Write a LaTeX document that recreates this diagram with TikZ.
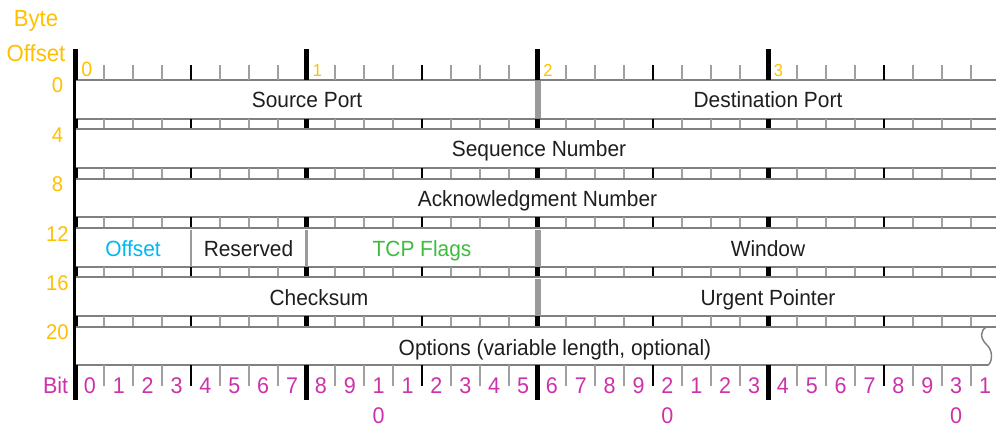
\documentclass[tikz,border=0pt]{standalone}
\usepackage{fontspec}
\setmainfont{Liberation Sans}[FakeStretch=0.95]
\definecolor{offy}{HTML}{FFC000}
\definecolor{bitm}{HTML}{CC33AA}
\definecolor{offc}{HTML}{00B8F0}
\definecolor{flagg}{RGB}{60,190,60}
\definecolor{txt}{HTML}{1E1E1E}
\definecolor{rulec}{HTML}{808080}
\definecolor{tickg}{HTML}{A0A0A0}
\definecolor{sepg}{HTML}{9A9A9A}
\begin{document}
\begin{tikzpicture}[x=0.75pt,y=-0.75pt,
  hline/.style={draw=rulec,line width=1.5pt},
  bytetick/.style={draw=black,line width=3.75pt},
  nibtick/.style={draw=black,line width=1.5pt},
  mintick/.style={draw=tickg,line width=1.5pt},
  fieldtxt/.style={inner sep=0pt,anchor=base,text=txt,font=\fontsize{16.5}{18}\selectfont},
  offlab/.style={inner sep=0pt,anchor=base,text=offy,font=\fontsize{16}{17}\selectfont},
  bitlab/.style={inner sep=0pt,anchor=base,text=bitm,font=\fontsize{17}{19}\selectfont},
  toplab/.style={inner sep=0pt,anchor=base west,text=offy,font=\fontsize{13}{14}\selectfont}]
\useasboundingbox (0,0) rectangle (996,428);
% row boxes and strips
\foreach \r in {0,...,4}{
  \pgfmathsetmacro\t{80+49.35*\r}
  \pgfmathsetmacro\b{\t+38.6}
  \pgfmathsetmacro\n{\t+49.35}
  \draw[hline] (75,\t) -- (1000,\t);
  \draw[hline] (75,\b) -- (1000,\b);
  \foreach \k in {0,...,32}{
    \pgfmathsetmacro\xx{75.5+28.875*\k}
    \pgfmathtruncatemacro\mb{mod(\k,8)}
    \pgfmathtruncatemacro\mn{mod(\k,4)}
    \ifnum\mb=0 \tikzset{tk/.style=bytetick}\else\ifnum\mn=0 \tikzset{tk/.style=nibtick}\else\tikzset{tk/.style=mintick}\fi\fi
    \draw[tk] (\xx,\b) -- (\xx,\n);
  }
}
% options row (last)
\coordinate (wt) at (987,326.7);
\coordinate (wb) at (988,365.3);
\draw[hline] (75,326.7) -- (1000,326.7);
\draw[hline] (75,365.3) -- (wb);
\draw[draw=rulec,line width=1.1pt] (wt) .. controls (980,330) and (980,338) .. (986,344)
   .. controls (993,350) and (993,361) .. (wb);
% top ruler
\foreach \k in {0,...,32}{
  \pgfmathsetmacro\xx{75.5+28.875*\k}
  \pgfmathtruncatemacro\mb{mod(\k,8)}
  \pgfmathtruncatemacro\mn{mod(\k,4)}
  \ifnum\mb=0 \draw[bytetick] (\xx,49) -- (\xx,80);
  \else\ifnum\mn=0 \draw[nibtick] (\xx,65) -- (\xx,80);
  \else\draw[mintick] (\xx,65) -- (\xx,80);\fi\fi
}
% bottom ruler
\foreach \k in {0,...,31}{
  \pgfmathsetmacro\xx{75.5+28.875*\k}
  \pgfmathtruncatemacro\mb{mod(\k,8)}
  \pgfmathtruncatemacro\mn{mod(\k,4)}
  \ifnum\mb=0 \draw[bytetick] (\xx,365) -- (\xx,400);
  \else\ifnum\mn=0 \draw[nibtick] (\xx,365) -- (\xx,386);
  \else\draw[mintick] (\xx,365) -- (\xx,386);\fi\fi
}
% left edge
\draw[black,line width=2.4pt] (74.3,49) -- (74.3,400);
% field separators
\draw[draw=sepg,line width=4.5pt] (537.5,81) -- (537.5,118);
\draw[draw=sepg,line width=4.5pt] (537.5,229.5) -- (537.5,266.5);
\draw[draw=sepg,line width=4.5pt] (537.5,278.5) -- (537.5,315.5);
\draw[draw=sepg,line width=1.3pt] (191,229.5) -- (191,266.5);
\draw[draw=sepg,line width=2.2pt] (306.5,229.5) -- (306.5,266.5);
% field texts
\node[fieldtxt] (sp) at (307,107.5) {Source Port};
\node[fieldtxt] (dp) at (768,107.5) {Destination Port};
\node[fieldtxt] (sn) at (539,156.8) {Sequence Number};
\node[fieldtxt] (an) at (537.5,206.2) {Acknowledgment Number};
\node[fieldtxt,text=offc] (of) at (133,256.5) {Offset};
\node[fieldtxt] (rs) at (248.5,256.5) {Reserved};
\node[fieldtxt,text=flagg] (tf) at (422,256.5) {TCP Flags};
\node[fieldtxt] (wn) at (768,256.5) {Window};
\node[fieldtxt] (cs) at (319,305.9) {Checksum};
\node[fieldtxt] (up) at (768,305.9) {Urgent Pointer};
\node[fieldtxt] (op) at (555,355.2) {Options (variable length, optional)};
% header
\node[offlab,font=\fontsize{17.5}{19}\selectfont] (hb) at (36,27) {Byte};
\node[offlab,font=\fontsize{17.5}{19}\selectfont] (ho) at (36,62) {Offset};
% byte offsets
\foreach \r/\v in {0/0,1/4,2/8,3/12,4/16,5/20}{
  \pgfmathsetmacro\t{80+49.35*\r+13}
  \node[offlab] (bo\r) at (57.5,\t) {\v};
}
% top ruler byte numbers
\node[toplab,font=\fontsize{15.5}{17}\selectfont] (t0) at (81,77) {0};
\node[toplab] (t1) at (312.5,77) {1};
\node[toplab] (t2) at (543,77) {2};
\node[toplab] (t3) at (773.5,77) {3};
% bottom bit labels
\node[bitlab,anchor=base east] (bitw) at (68.5,393) {Bit};
\foreach \k in {0,...,31}{
  \pgfmathsetmacro\xx{75.5+28.875*(\k+0.5)}
  \pgfmathtruncatemacro\md{mod(\k,10)}
  \pgfmathtruncatemacro\tn{\k/10}
  \ifnum\k<10
    \node[bitlab] (b\k) at (\xx,393) {\k};
  \else\ifnum\md=0
    \node[bitlab] (b\k) at (\xx,393) {\tn};
    \node[bitlab] (c\k) at (\xx,423) {0};
  \else
    \node[bitlab] (b\k) at (\xx,393) {\md};
  \fi\fi
}
\end{tikzpicture}
\end{document}
